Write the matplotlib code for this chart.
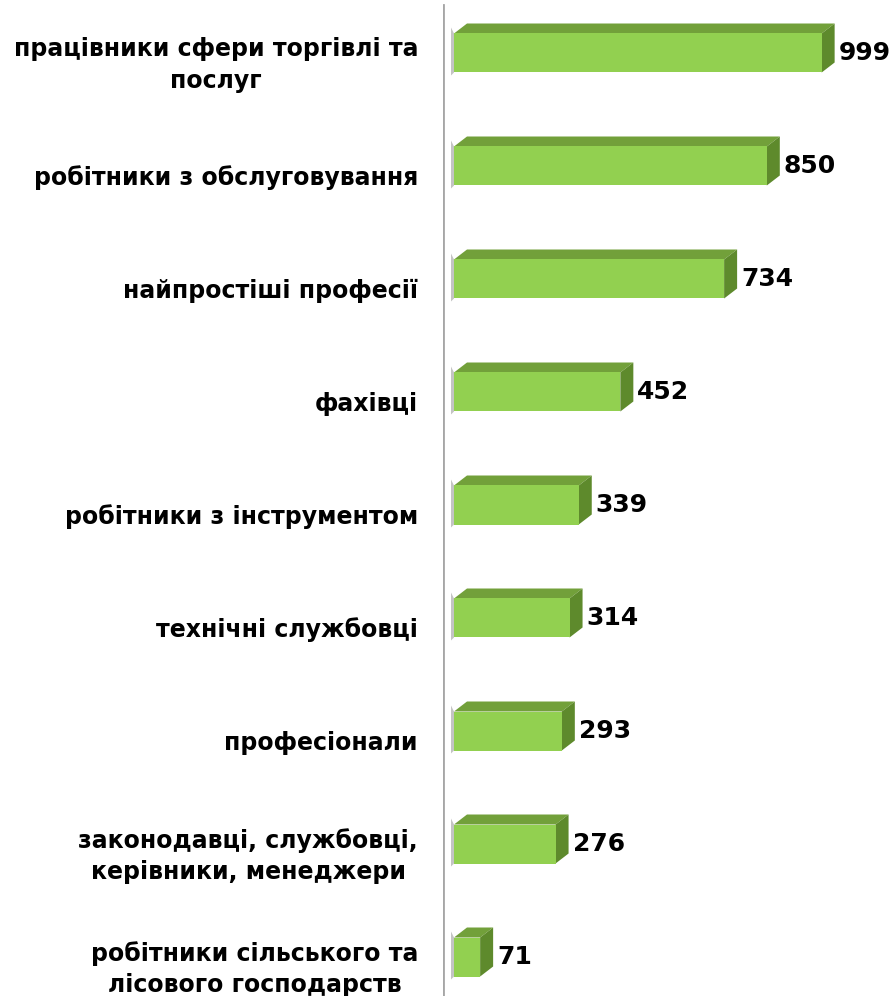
import numpy as np
import matplotlib.pyplot as plt
from matplotlib.patches import Polygon

categories = [
    "працівники сфери торгівлі та\nпослуг",
    "робітники з обслуговування",
    "найпростіші професії",
    "фахівці",
    "робітники з інструментом",
    "технічні службовці",
    "професіонали",
    "законодавці, службовці,\nкерівники, менеджери",
    "робітники сільського та\nлісового господарств",
]
values = [999, 850, 734, 452, 339, 314, 293, 276, 71]

front_color = "#92D050"
top_color = "#72A03A"
side_color = "#5E8A2C"

W, H = 894, 996
fig = plt.figure(figsize=(W / 100, H / 100), dpi=100)
ax = fig.add_axes([443 / W, 0, (W - 443) / W, 1])

px_x = 0.368          # pixels per unit
px_y = 113.0          # pixels per category
x0 = -11 / px_x
ax.set_xlim(x0, x0 + (W - 443) / px_x)
ax.set_ylim(8 + (H - 957) / px_y, -53 / px_y)
ax.axis("off")

bh = 39 / px_y
dx = 13 / px_x
dy = 10 / px_y

y = np.arange(len(values))
ax.barh(y, values, height=bh, color=front_color, edgecolor="none", zorder=3)

for yi, v in zip(y, values):
    top = yi - bh / 2
    bot = yi + bh / 2
    # top face
    ax.add_patch(Polygon([(0, top), (v, top), (v + dx, top - dy), (dx, top - dy)],
                         closed=True, color=top_color, lw=0, zorder=2))
    # side face
    ax.add_patch(Polygon([(v, top), (v + dx, top - dy), (v + dx, bot - dy), (v, bot)],
                         closed=True, color=side_color, lw=0, zorder=2))
    # soft shadow on the left
    ax.add_patch(Polygon([(-3 / px_x, top - dy * 0.6), (0, top), (0, bot), (-3 / px_x, bot + dy * 0.3)],
                         closed=True, color="#c4c4c4", lw=0, zorder=1))
    ax.text(v + dx + 4 / px_x, yi, str(v), ha="left", va="center",
            fontsize=18, fontweight="bold", color="black", zorder=4)

for yi, lab in zip(y, categories):
    ax.text(x0 - 25 / px_x, yi + 12 / px_y, lab, ha="right", va="center",
            multialignment="center", fontsize=17, fontweight="bold",
            linespacing=1.38, color="black", clip_on=False)

ax.axvline(x0, ymin=0, ymax=1 - 5 / H, color="#A6A6A6", lw=2, zorder=1)

fig.savefig("out.png", dpi=100)
